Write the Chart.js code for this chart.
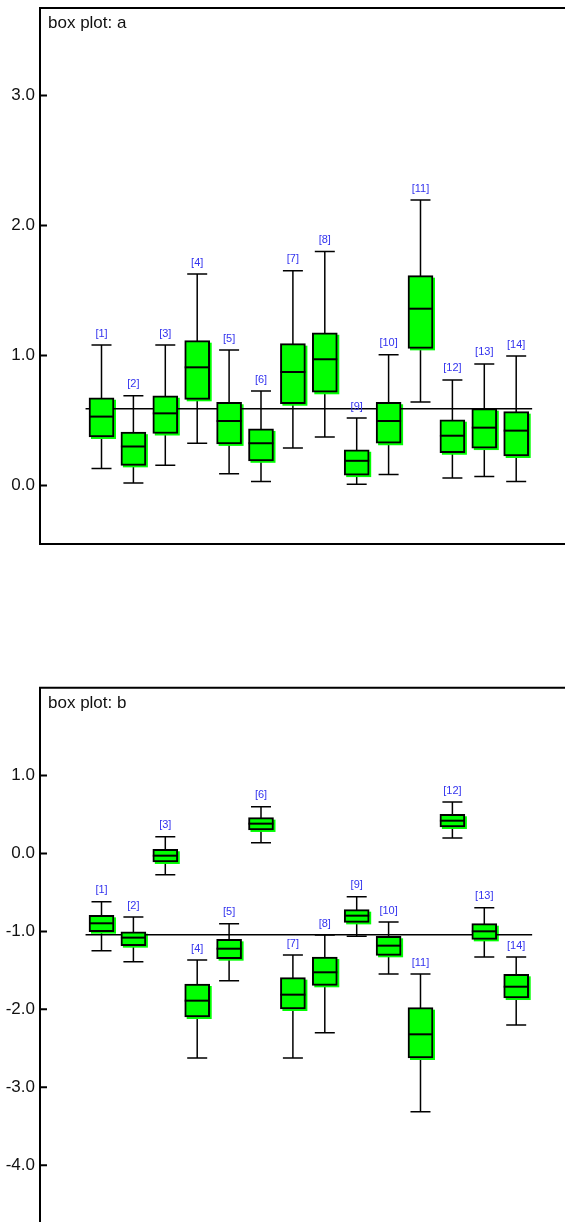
<!DOCTYPE html>
<html>
<head>
<meta charset="utf-8">
<script src="https://cdn.jsdelivr.net/npm/chart.js@4.4.1/dist/chart.umd.min.js"></script>
<style>
body { margin: 0; background: #fff; overflow: hidden; width: 565px; height: 1222px; }
.plot { position: absolute; left: 0; width: 565px; }
</style>
</head>
<body>
<div class="plot" style="top:0;height:552px"><canvas id="plotA" width="565" height="552"></canvas></div>
<div class="plot" style="top:680px;height:542px"><canvas id="plotB" width="565" height="542"></canvas></div>
<script>
// categories (box positions 1..14)
const groupLabels = ['[1]', '[2]', '[3]', '[4]', '[5]', '[6]', '[7]', '[8]', '[9]', '[10]', '[11]', '[12]', '[13]', '[14]'];
const positions = [1, 2, 3, 4, 5, 6, 7, 8, 9, 10, 11, 12, 13, 14];

// box plot a
const lowA  = [0.13, 0.02, 0.155, 0.325, 0.09, 0.03, 0.288, 0.373, 0.01, 0.085, 0.642, 0.058, 0.07, 0.03];
const q1A   = [0.373, 0.155, 0.40, 0.663, 0.32, 0.19, 0.629, 0.717, 0.08, 0.325, 1.055, 0.252, 0.288, 0.227];
const medA  = [0.53, 0.30, 0.555, 0.909, 0.496, 0.325, 0.873, 0.971, 0.19, 0.496, 1.36, 0.383, 0.445, 0.422];
const q3A   = [0.675, 0.41, 0.69, 1.114, 0.64, 0.435, 1.091, 1.175, 0.275, 0.64, 1.614, 0.506, 0.591, 0.568];
const highA = [1.08, 0.69, 1.08, 1.627, 1.042, 0.727, 1.652, 1.80, 0.519, 1.006, 2.196, 0.812, 0.935, 0.996];
const refA = 0.59;
const ticksA = [0, 1, 2, 3];

// box plot b
const lowB  = [-1.248, -1.389, -0.272, -2.625, -1.633, 0.139, -2.625, -2.30, -1.063, -1.547, -3.314, 0.199, -1.329, -2.202];
const q1B   = [-1.004, -1.183, -0.109, -2.099, -1.35, 0.302, -1.996, -1.692, -0.884, -1.307, -2.625, 0.34, -1.102, -1.855];
const medB  = [-0.896, -1.08, -0.028, -1.889, -1.222, 0.383, -1.812, -1.525, -0.798, -1.183, -2.321, 0.421, -0.999, -1.71];
const q3B   = [-0.794, -1.004, 0.054, -1.675, -1.102, 0.46, -1.594, -1.329, -0.721, -1.063, -1.979, 0.503, -0.901, -1.551];
const highB = [-0.619, -0.815, 0.216, -1.367, -0.901, 0.601, -1.303, -1.046, -0.554, -0.879, -1.547, 0.661, -0.695, -1.329];
const refB = -1.042;
const ticksB = [-4, -3, -2, -1, 0, 1];

Chart.defaults.font.family = '"Liberation Sans", Arial, sans-serif';

// whiskers, medians, labels, frame and title
const boxPlotPlugin = {
    id: 'boxPlot',
    beforeDatasetsDraw(chart, args, opts) {
        const ctx = chart.ctx;
        const xs = chart.scales.x, ys = chart.scales.y;
        ctx.save();
        ctx.strokeStyle = '#000';
        ctx.lineWidth = 1.5;
        positions.forEach((p, i) => {
            const px = xs.getPixelForValue(p);
            const top = ys.getPixelForValue(opts.high[i]);
            const bot = ys.getPixelForValue(opts.low[i]);
            ctx.beginPath();
            ctx.moveTo(px, top); ctx.lineTo(px, bot);
            ctx.moveTo(px - 10, top); ctx.lineTo(px + 10, top);
            ctx.moveTo(px - 10, bot); ctx.lineTo(px + 10, bot);
            ctx.stroke();
        });
        // green shadow behind each box
        ctx.fillStyle = '#00ff00';
        chart.getDatasetMeta(0).data.forEach(bar => {
            const b = bar.getProps(['x', 'y', 'base', 'width'], true);
            ctx.fillRect(b.x - b.width / 2 + 2, Math.min(b.y, b.base) + 2, b.width, Math.abs(b.base - b.y));
        });
        ctx.restore();
    },
    afterDatasetsDraw(chart, args, opts) {
        const ctx = chart.ctx;
        const xs = chart.scales.x, ys = chart.scales.y;
        ctx.save();
        ctx.strokeStyle = '#000';
        ctx.lineWidth = 2;
        ctx.fillStyle = '#3333ee';
        ctx.font = '11px "Liberation Sans", Arial, sans-serif';
        ctx.textAlign = 'center';
        ctx.textBaseline = 'middle';
        positions.forEach((p, i) => {
            const px = xs.getPixelForValue(p);
            const pm = ys.getPixelForValue(opts.med[i]);
            ctx.beginPath();
            ctx.moveTo(px - 12.5, pm); ctx.lineTo(px + 12.5, pm);
            ctx.stroke();
            ctx.fillText(groupLabels[i], px, ys.getPixelForValue(opts.high[i]) - 11.5);
        });
        ctx.restore();
    },
    afterDraw(chart, args, opts) {
        const ctx = chart.ctx;
        const area = chart.chartArea;
        const ys = chart.scales.y;
        ctx.save();
        ctx.strokeStyle = '#000';
        ctx.lineWidth = 2;
        ctx.beginPath();
        ctx.moveTo(chart.width, area.top);
        ctx.lineTo(area.left, area.top);
        ctx.lineTo(area.left, area.bottom);
        if (opts.frameBottom) ctx.lineTo(chart.width, area.bottom);
        ys.ticks.forEach(t => {
            const py = ys.getPixelForValue(t.value);
            ctx.moveTo(area.left, py);
            ctx.lineTo(area.left + 7, py);
        });
        ctx.stroke();
        ctx.fillStyle = '#111';
        ctx.font = '17px "Liberation Sans", Arial, sans-serif';
        ctx.textAlign = 'left';
        ctx.textBaseline = 'alphabetic';
        ctx.fillText(opts.title, area.left + 8, area.top + 20);
        ctx.restore();
    }
};

function makeBoxPlot(id, title, low, q1, med, q3, high, ref, ticks, yMin, yMax, padTop, padBottom, frameBottom) {
    const boxes = positions.map((p, i) => ({ x: p, y: [q1[i], q3[i]] }));
    return new Chart(document.getElementById(id), {
        type: 'bar',
        data: {
            datasets: [{
                data: boxes,
                backgroundColor: '#00ff00',
                borderColor: '#000',
                borderWidth: 2,
                borderSkipped: false,
                barThickness: 25,
                order: 1
            }, {
                type: 'line',
                data: [{ x: 0.5, y: ref }, { x: 14.5, y: ref }],
                borderColor: '#000',
                borderWidth: 1.5,
                pointRadius: 0,
                order: 2
            }]
        },
        options: {
            responsive: false,
            animation: false,
            devicePixelRatio: 1,
            layout: { padding: { top: padTop, bottom: padBottom, left: 0, right: 0 } },
            plugins: {
                legend: { display: false },
                tooltip: { enabled: false },
                boxPlot: { title: title, low: low, med: med, high: high, frameBottom: frameBottom }
            },
            scales: {
                x: { type: 'linear', offset: false, min: -0.928, max: 15.53, display: false },
                y: {
                    min: yMin,
                    max: yMax,
                    grid: { display: false, drawTicks: false },
                    border: { display: false },
                    afterBuildTicks: scale => { scale.ticks = ticks.map(v => ({ value: v })); },
                    afterFit: scale => { scale.width = 40; scale.paddingTop = 0; scale.paddingBottom = 0; },
                    ticks: {
                        padding: 5,
                        color: '#111',
                        font: { size: 17 },
                        callback: v => v.toFixed(1)
                    }
                }
            }
        },
        plugins: [boxPlotPlugin]
    });
}

makeBoxPlot('plotA', 'box plot: a', lowA, q1A, medA, q3A, highA, refA, ticksA, -0.45, 3.673, 8, 8, true);
makeBoxPlot('plotB', 'box plot: b', lowB, q1B, medB, q3B, highB, refB, ticksB, -4.73, 2.128, 7.7, 0, false);
</script>
</body>
</html>
